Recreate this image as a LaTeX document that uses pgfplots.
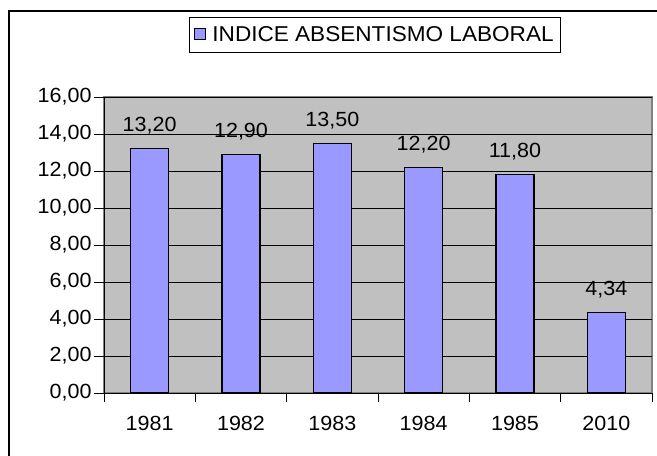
\documentclass[border=0pt]{standalone}
\usepackage{pgfplots}
\pgfplotsset{compat=1.18}
\usepackage{fontspec}
\setmainfont{Liberation Sans}[FakeStretch=1.05]
\definecolor{plotbg}{HTML}{C0C0C0}
\definecolor{plotborder}{HTML}{808080}
\definecolor{barfill}{HTML}{9999FF}
\begin{document}
\begin{tikzpicture}
\begin{axis}[
  at={(104bp,-393bp)}, anchor=south west,
  scale only axis, width=548bp, height=296bp,
  xmin=-0.5, xmax=5.5, ymin=0, ymax=16,
  axis background/.style={fill=plotbg, draw=plotborder, line width=1.2bp},
  axis x line*=bottom, axis y line*=left,
  axis line style={-, black, line width=1bp},
  xtick={0,1,2,3,4,5},
  xticklabels={1981,1982,1983,1984,1985,2010},
  minor xtick={-0.5,0.5,1.5,2.5,3.5,4.5,5.5},
  major x tick style={draw=none},
  minor x tick style={black, line width=1bp},
  minor tick length=9bp,
  ytick={0,2,...,16},
  y tick style={black, line width=1bp},
  major tick length=10bp,
  tick align=outside,
  ymajorgrids, grid style={black, line width=0.9bp},
  ticklabel style={font=\fontsize{20.5bp}{24bp}\selectfont},
  xticklabel style={yshift=-10bp},
  yticklabel style={xshift=1bp},
  /pgf/number format/assume math mode=true,
  yticklabel={\pgfmathprintnumber[fixed, fixed zerofill, precision=2, use comma]{\tick}},
  ybar, bar width=38bp,
  nodes near coords={\pgfmathprintnumber[fixed, fixed zerofill, precision=2, use comma]{\pgfplotspointmeta}},
  nodes near coords style={font=\fontsize{20.5bp}{24bp}\selectfont, anchor=base, yshift=17bp, inner sep=0pt},
  legend style={at={(0.4945,1.270)}, anchor=north, draw=black, line width=0.8bp,
    font=\fontsize{21.5bp}{25bp}\selectfont, inner xsep=5bp, inner ysep=7bp},
  legend image code/.code={\draw[#1, line width=1bp] (0bp,-5bp) rectangle (11bp,6bp); \path (15bp,0bp);},
  clip=false,
]
\addplot[fill=barfill, draw=black, line width=1.2bp] coordinates {
  (0,13.20) (1,12.90) (2,13.50) (3,12.20) (4,11.80) (5,4.34)};
\addlegendentry{INDICE ABSENTISMO LABORAL}
\end{axis}
\draw[line width=2bp] (9bp,-470bp) -- (9bp,-11bp) -- (670bp,-11bp);
\pgfresetboundingbox
\path[use as bounding box] (0bp,0bp) rectangle (657bp,-456bp);
\end{tikzpicture}
\end{document}
